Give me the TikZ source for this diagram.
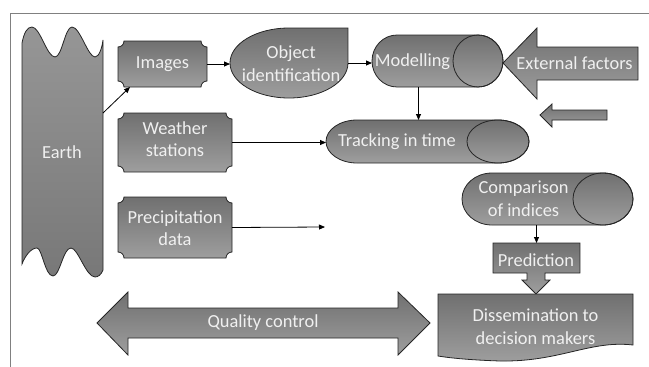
\documentclass[tikz,border=0pt]{standalone}
\usepackage{fontspec}
\setmainfont{Carlito}
\usetikzlibrary{arrows.meta,calc}
\definecolor{gtop}{RGB}{112,112,112}
\definecolor{gbot}{RGB}{158,158,158}
\definecolor{etop}{RGB}{150,150,150}
\definecolor{ebot}{RGB}{120,120,120}
\definecolor{txt}{RGB}{240,240,240}
\definecolor{framec}{RGB}{128,128,128}
\tikzset{
  shp/.style={draw=black!85, line width=0.8pt, top color=gtop, bottom color=gbot},
  eshp/.style={draw=black!85, line width=0.8pt, top color=etop, bottom color=ebot},
  lbl/.style={text=txt, font=\fontsize{18.4}{22.5}\selectfont, align=center, inner sep=0pt},
  box/.style={draw=none, inner sep=0pt, outer sep=0pt, rectangle},
  arr/.style={draw=black, line width=0.8pt, -{Triangle[length=6pt,width=5pt]}},
}
\begin{document}
\begin{tikzpicture}[x=1pt,y=-1pt]
\useasboundingbox (0,0) rectangle (649,367);
% frame
\draw[framec, line width=0.9pt] (10,367) -- (10,13) -- (649,13);

% anchor nodes (invisible boxes)
\node[box, minimum width=81pt, minimum height=249pt] (earth) at (62.5,151.5) {};
\node[box, minimum width=89pt, minimum height=46pt] (images) at (162.5,64) {};
\node[box, minimum width=114pt, minimum height=59pt] (weather) at (175,142.5) {};
\node[box, minimum width=114pt, minimum height=61pt] (precip) at (175,227.5) {};
\node[box, minimum width=118pt, minimum height=70pt] (obj) at (289,63) {};
\node[box, minimum width=131pt, minimum height=52pt] (model) at (437.5,61) {};
\node[box, minimum width=203pt, minimum height=43pt] (track) at (427.5,141.5) {};
\node[box, minimum width=171pt, minimum height=52pt] (comp) at (547.5,199) {};
\node[box, minimum width=87pt, minimum height=30pt] (pred) at (536.5,258) {};
\node[box, minimum width=195pt, minimum height=64pt] (diss) at (535.5,326) {};
\coordinate (pend) at (325,227);

% Earth (double wave)
\shadedraw[eshp] (22,43)
  .. controls (24,33) and (27,27) .. (32,27)
  .. controls (40,27) and (47,57) .. (55,57)
  .. controls (62,57) and (65,27) .. (72,27)
  .. controls (80,27) and (88,57) .. (95,57)
  .. controls (99,57) and (102,48) .. (103,40)
  -- (103,270)
  .. controls (101,275) and (98,277) .. (95,277)
  .. controls (86,277) and (78,248) .. (71,248)
  .. controls (63,248) and (60,276) .. (53,276)
  .. controls (45,276) and (42,248) .. (37,248)
  .. controls (31,248) and (25,256) .. (22,264) -- cycle;

% plaques
\foreach \n/\xa/\ya/\xb/\yb in {images/118/41/207/87, weather/118/113/232/172, precip/118/197/232/258}{
  \shadedraw[shp] (\xa+6,\ya) -- (\xb-6,\ya) arc[start angle=180,end angle=90,radius=6]
    -- (\xb,\yb-6) arc[start angle=270,end angle=180,radius=6]
    -- (\xa+6,\yb) arc[start angle=0,end angle=-90,radius=6]
    -- (\xa,\ya+6) arc[start angle=90,end angle=0,radius=6] -- cycle;
}

% teardrop
\shadedraw[shp] (289,28) -- (348,28) -- (348,63)
  arc[start angle=0,end angle=270,x radius=59,y radius=35] -- cycle;

% cylinders
\foreach \xl/\xr/\yt/\yb/\rx in {372/503/35/87/25, 326/529/120/163/31, 462/633/173/225/30}{
  \pgfmathsetmacro{\ry}{(\yb-\yt)/2}
  \shadedraw[shp] (\xl+\rx,\yt) -- (\xr-\rx,\yt)
    arc[start angle=270,end angle=450,x radius=\rx,y radius=\ry]
    -- (\xl+\rx,\yb)
    arc[start angle=90,end angle=270,x radius=\rx,y radius=\ry] -- cycle;
  \draw[black!85, line width=0.8pt] (\xr-\rx,\yt+\ry) ellipse[x radius=\rx,y radius=\ry];
}

% External factors arrow
\shadedraw[shp] (503,63) -- (537,28) -- (537,47) -- (638,47) -- (638,80) -- (537,80) -- (537,99) -- cycle;
% small arrow
\shadedraw[shp] (540,115) -- (552,104) -- (552,110) -- (607,110) -- (607,120) -- (552,120) -- (552,127) -- cycle;
% Quality control double arrow
\shadedraw[shp] (97,323) -- (128,292) -- (128,308) -- (398,308) -- (398,292) -- (430,323)
  -- (398,355) -- (398,338) -- (128,338) -- (128,355) -- cycle;
% Prediction callout
\shadedraw[shp] (493,243) -- (580,243) -- (580,273) -- (545,273) -- (545,280) -- (550,280)
  -- (536,294) -- (522,280) -- (527,280) -- (527,273) -- (493,273) -- cycle;
% Dissemination document
\shadedraw[shp] (438,294) -- (633,294) -- (633,345)
  .. controls (590,340) and (560,362) .. (500,361)
  .. controls (470,360) and (450,358) .. (438,356) -- cycle;

% labels
\node[lbl] at (62,152) {Earth};
\node[lbl] at (162.5,64) {Images};
\node[lbl] at (175,139) {Weather\\stations};
\node[lbl] at (175,228) {Precipitation\\data};
\node[lbl] at (291,63.5) {Object\\identification};
\node[lbl] at (412.5,62) {Modelling};
\node[lbl] at (574.5,63) {External factors};
\node[lbl] at (397,142) {Tracking in time};
\node[lbl] at (523.5,198.5) {Comparison\\of indices};
\node[lbl] at (536,260) {Prediction};
\node[lbl] at (535.5,326.5) {Dissemination to\\decision makers};
\node[lbl] at (263,323) {Quality control};

% connectors
\draw[arr] ([yshift=38.5pt]earth.east) -- ([xshift=12pt]images.south west);
\draw[arr] (images.east) -- (images.east -| obj.west);
\draw[arr] (obj.east) -- (obj.east -| model.west);
\draw[arr] ([xshift=-19pt]model.south) -- ([xshift=-19pt]model.south |- track.north);
\draw[arr] (weather.east) -- (weather.east -| track.west);
\draw[arr] (precip.east) -- (pend);
\draw[arr] (pred.north |- comp.south) -- (pred.north);
\end{tikzpicture}
\end{document}
